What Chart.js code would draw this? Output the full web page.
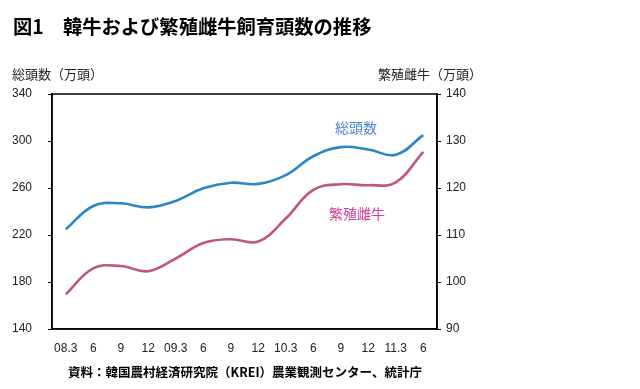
<!DOCTYPE html>
<html><head><meta charset="utf-8">
<script src="https://cdn.jsdelivr.net/npm/chart.js@4"></script>
<style>html,body{margin:0;padding:0;background:#fff;}canvas{display:block;}</style>
</head><body>
<canvas id="c" width="640" height="389"></canvas>
<script>
const categories = ["08.3","6","9","12","09.3","6","9","12","10.3","6","9","12","11.3","6"];
const totalHead = [224.8,244.7,247.0,243.5,249.0,259.7,264.5,263.5,271.0,287.0,294.8,292.8,288.3,305.0];
const breedingCows = [97.4,102.9,103.4,102.3,105.0,108.3,109.1,108.6,113.5,119.6,120.8,120.6,121.2,127.7];
const leftTicks = [140,180,220,260,300,340];
const rightTicks = [90,100,110,120,130,140];

const JP = '"Noto Sans CJK JP", sans-serif';
const NUM = '"Liberation Sans", "Noto Sans CJK JP", sans-serif';

const decor = {
  id: 'decor',
  afterDraw(chart) {
    const ctx = chart.ctx, a = chart.chartArea;
    ctx.save();
    ctx.strokeStyle = '#000'; ctx.lineWidth = 1.5;
    ctx.strokeRect(a.left, a.top, a.right - a.left, a.bottom - a.top);
    ctx.fillStyle = '#000';
    ctx.textBaseline = 'middle';
    ctx.font = 'bold 19.3px ' + JP;
    ctx.textAlign = 'left';
    ctx.fillText('図1　韓牛および繁殖雌牛飼育頭数の推移', 13, 27);
    ctx.font = '13px ' + JP;
    ctx.fillStyle = '#222';
    ctx.fillText('総頭数（万頭）', 12, a.top - 20);
    ctx.textAlign = 'right';
    ctx.fillText('繁殖雌牛（万頭）', 482, a.top - 20);
    ctx.textAlign = 'center';
    ctx.font = 'bold 12.5px ' + JP;
    ctx.fillStyle = '#000';
    ctx.fillText('資料：韓国農村経済研究院（KREI）農業観測センター、統計庁', 245, 372);
    ctx.font = '14px ' + JP;
    ctx.fillStyle = '#4a86cc';
    ctx.fillText('総頭数', 356, 128);
    ctx.fillStyle = '#d0409c';
    ctx.fillText('繁殖雌牛', 357, 214);
    ctx.restore();
  }
};

new Chart(document.getElementById('c'), {
  type: 'line',
  data: {
    labels: categories,
    datasets: [
      { label: '総頭数', data: totalHead, yAxisID: 'y', borderColor: '#2a86c6', borderWidth: 2.6, pointRadius: 0, tension: 0.4, fill: false },
      { label: '繁殖雌牛', data: breedingCows, yAxisID: 'y1', borderColor: '#c0587e', borderWidth: 2.6, pointRadius: 0, tension: 0.4, fill: false }
    ]
  },
  options: {
    responsive: false,
    animation: false,
    events: [],
    layout: { padding: { top: 94 } },
    plugins: { legend: { display: false }, tooltip: { enabled: false }, title: { display: false } },
    scales: {
      x: {
        offset: true,
        grid: { display: false, drawTicks: false },
        border: { display: true, color: '#000', width: 1.5 },
        ticks: { color: '#222', font: { family: NUM, size: 12 }, padding: 12, maxRotation: 0, autoSkip: false },
        afterFit(s) { s.height = 60; }
      },
      y: {
        position: 'left', min: 140, max: 340,
        afterBuildTicks(s) { s.ticks = leftTicks.map(v => ({ value: v })); },
        grid: { drawOnChartArea: false, drawTicks: true, tickLength: 4, color: '#000' },
        border: { display: true, color: '#000', width: 1.5 },
        ticks: { color: '#222', font: { family: NUM, size: 12 }, padding: 16 },
        afterFit(s) { s.width = 52; }
      },
      y1: {
        position: 'right', min: 90, max: 140,
        afterBuildTicks(s) { s.ticks = rightTicks.map(v => ({ value: v })); },
        grid: { drawOnChartArea: false, drawTicks: true, tickLength: 4, color: '#000' },
        border: { display: true, color: '#000', width: 1.5 },
        ticks: { color: '#222', font: { family: NUM, size: 12 }, padding: 5 },
        afterFit(s) { s.width = 203; }
      }
    }
  },
  plugins: [decor]
});
</script>
</body></html>
